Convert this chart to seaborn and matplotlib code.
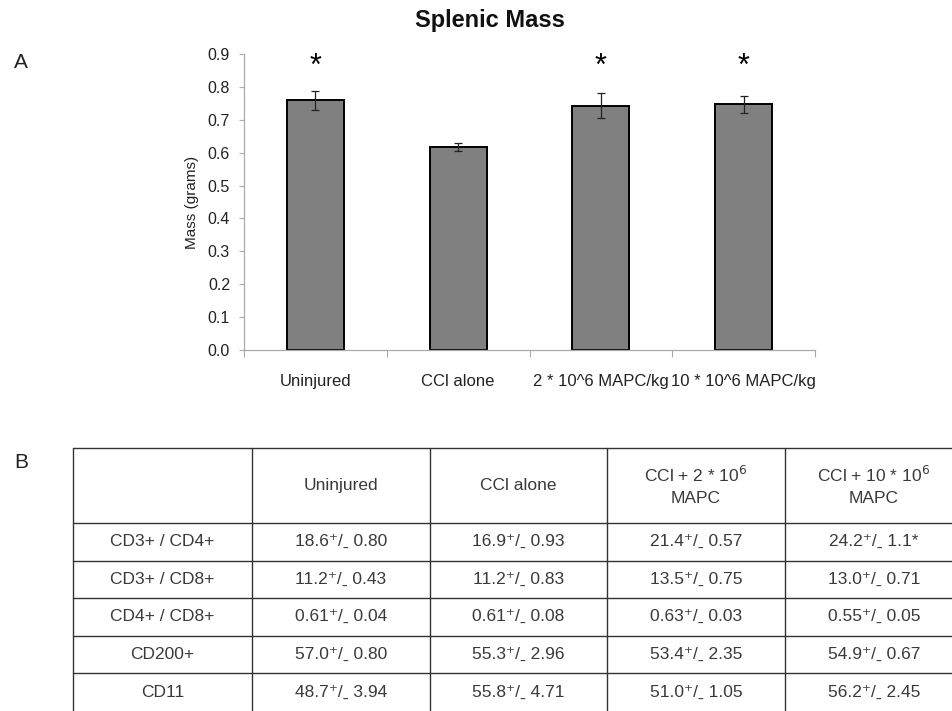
import matplotlib
matplotlib.use("Agg")
import matplotlib.pyplot as plt
import seaborn as sns
import pandas as pd
import numpy as np

# ---- data ----
groups = ["Uninjured", "CCl alone", "2 * 10^6 MAPC/kg", "10 * 10^6 MAPC/kg"]
mass = [0.760, 0.618, 0.743, 0.747]
mass_err = [0.029, 0.012, 0.037, 0.026]
significant = [True, False, True, True]
yticks = [0.0, 0.1, 0.2, 0.3, 0.4, 0.5, 0.6, 0.7, 0.8, 0.9]

table_header = ["", "Uninjured", "CCl alone", "CCl + 2 * 10$^6$\nMAPC", "CCl + 10 * 10$^6$\nMAPC"]
row_labels = ["CD3+ / CD4+", "CD3+ / CD8+", "CD4+ / CD8+", "CD200+", "CD11"]
col_uninjured = ["18.6\u207a/\u02cd 0.80", "11.2\u207a/\u02cd 0.43", "0.61\u207a/\u02cd 0.04", "57.0\u207a/\u02cd 0.80", "48.7\u207a/\u02cd 3.94"]
col_cci = ["16.9\u207a/\u02cd 0.93", "11.2\u207a/\u02cd 0.83", "0.61\u207a/\u02cd 0.08", "55.3\u207a/\u02cd 2.96", "55.8\u207a/\u02cd 4.71"]
col_2e6 = ["21.4\u207a/\u02cd 0.57", "13.5\u207a/\u02cd 0.75", "0.63\u207a/\u02cd 0.03", "53.4\u207a/\u02cd 2.35", "51.0\u207a/\u02cd 1.05"]
col_10e6 = ["24.2\u207a/\u02cd 1.1*", "13.0\u207a/\u02cd 0.71", "0.55\u207a/\u02cd 0.05", "54.9\u207a/\u02cd 0.67", "56.2\u207a/\u02cd 2.45"]

sns.set_theme(style="white")
plt.rcParams["font.family"] = ["Liberation Sans", "DejaVu Sans"]

W, H = 952, 711
fig = plt.figure(figsize=(W / 100, H / 100), dpi=100)

def fx(px):
    return px / W

def fy(py):
    return 1 - py / H

# ---- panel A ----
ax = fig.add_axes([fx(244), fy(350), fx(815) - fx(244), fy(54) - fy(350)])
df = pd.DataFrame({"group": groups, "mass": mass})
sns.barplot(data=df, x="group", y="mass", ax=ax, color="#808080",
            edgecolor="black", linewidth=1.4, width=0.40, saturation=1, errorbar=None)
pos = np.arange(len(groups))
ax.errorbar(pos, mass, yerr=mass_err, fmt="none", ecolor="#222222",
            elinewidth=0.9, capsize=3, capthick=0.9)
for p, m, s in zip(pos, mass, significant):
    if s:
        ax.text(p, 0.862, "*", ha="center", va="center", fontsize=22, color="black")
ax.set_ylim(0, 0.9)
ax.set_xlim(-0.5, len(groups) - 0.5)
ax.set_yticks(yticks)
ax.set_yticklabels([f"{t:.1f}" for t in yticks], fontsize=11.5, color="#222222")
ax.set_xticks(pos)
ax.set_xticklabels(groups, fontsize=12, color="#222222")
ax.tick_params(axis="x", length=0, pad=17)
ax.tick_params(axis="y", length=3.5, width=0.8, color="#aaaaaa", left=True, pad=6.5)
ax.set_xticks(np.arange(len(groups) + 1) - 0.5, minor=True)
ax.tick_params(axis="x", which="minor", length=5, width=0.8, color="#aaaaaa", bottom=True)
for side in ["top", "right"]:
    ax.spines[side].set_visible(False)
for side in ["left", "bottom"]:
    ax.spines[side].set_color("#aaaaaa")
    ax.spines[side].set_linewidth(0.9)
ax.set_xlabel("")
ax.set_ylabel("Mass (grams)", fontsize=11, color="#222222", labelpad=6)
fig.text(fx(490), fy(20), "Splenic Mass", fontsize=17, fontweight="bold",
         ha="center", va="center", color="#111111")

fig.text(fx(14), fy(63), "A", fontsize=15, ha="left", va="center", color="#222222")
fig.text(fx(14), fy(463), "B", fontsize=15, ha="left", va="center", color="#222222")

# ---- panel B (table) ----
col_edges_px = [73, 252, 430, 607, 785, 963]
row_edges_px = [448, 523, 560.5, 598, 635.5, 673, 711.5]
tax = fig.add_axes([0, 0, 1, 1])
tax.set_xlim(0, W)
tax.set_ylim(H, 0)
tax.axis("off")
for x in col_edges_px:
    tax.plot([x, x], [row_edges_px[0], row_edges_px[-1]], color="#333333", lw=1.0, clip_on=False)
for y in row_edges_px:
    tax.plot([col_edges_px[0], col_edges_px[-1]], [y, y], color="#333333", lw=1.0, clip_on=False)

txt_kw = dict(ha="center", va="center", fontsize=12.5, color="#3a3a3a")
centers_x = [(a + b) / 2 for a, b in zip(col_edges_px[:-1], col_edges_px[1:])]
centers_y = [(a + b) / 2 for a, b in zip(row_edges_px[:-1], row_edges_px[1:])]
for cx, h in zip(centers_x, table_header):
    tax.text(cx, centers_y[0], h, linespacing=1.5, **txt_kw)
columns = [row_labels, col_uninjured, col_cci, col_2e6, col_10e6]
for cx, col in zip(centers_x, columns):
    for cy, v in zip(centers_y[1:], col):
        tax.text(cx, cy, v, **txt_kw)

fig.savefig("out.png", dpi=100)
